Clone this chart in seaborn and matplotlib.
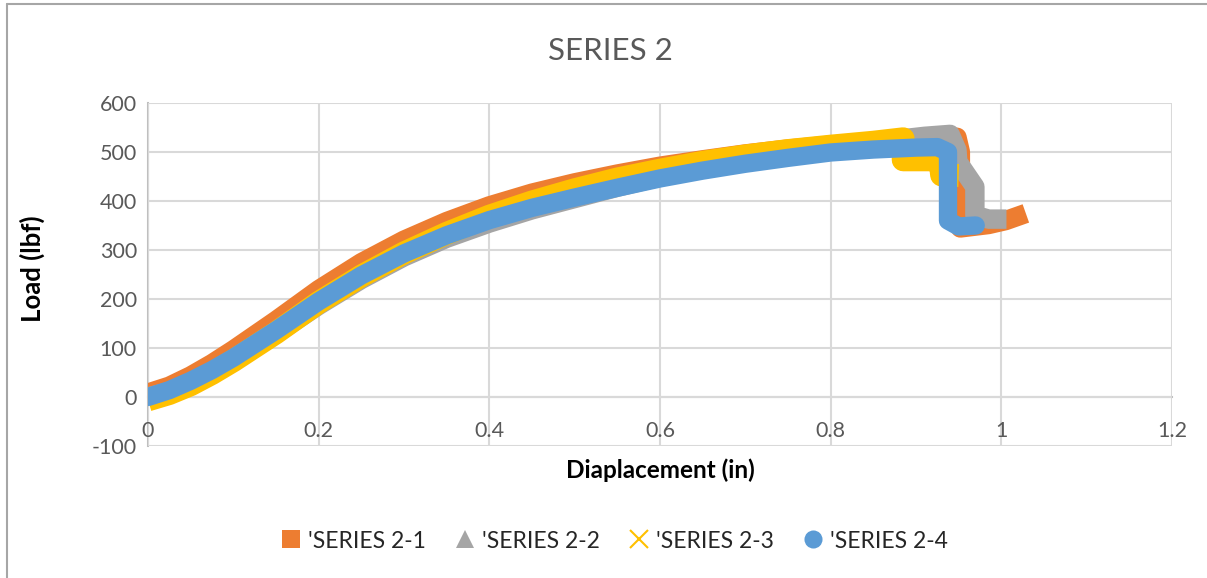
import matplotlib
matplotlib.use("Agg")
import matplotlib.pyplot as plt
from matplotlib.lines import Line2D
import seaborn as sns
import pandas as pd

# Load-displacement traces for the four specimens of series 2
disp_1 = [0.0, 0.025, 0.05, 0.075, 0.10, 0.15, 0.20, 0.25, 0.30, 0.35, 0.40, 0.45, 0.50, 0.55, 0.60,
          0.65, 0.70, 0.75, 0.80, 0.85, 0.90, 0.93, 0.948, 0.952, 0.952, 0.985, 1.005, 1.018]
load_1 = [8, 22, 43, 68, 96, 156, 219, 274, 320, 358, 390, 416, 437, 455, 471,
          484, 496, 506, 514, 521, 528, 532, 530, 500, 345, 352, 360, 368]

disp_2 = [0.0, 0.025, 0.05, 0.075, 0.10, 0.15, 0.20, 0.25, 0.30, 0.35, 0.40, 0.45, 0.50, 0.55, 0.60,
          0.65, 0.70, 0.75, 0.80, 0.85, 0.88, 0.91, 0.94, 0.948, 0.949, 0.969, 0.969, 0.985, 1.006]
load_2 = [0, 11, 29, 51, 75, 129, 187, 240, 286, 324, 355, 382, 405, 428, 449,
          467, 482, 496, 507, 518, 526, 532, 536, 504, 480, 429, 371, 363, 363]

disp_3 = [0.0, 0.025, 0.05, 0.075, 0.10, 0.15, 0.20, 0.25, 0.30, 0.35, 0.40, 0.45, 0.50, 0.55, 0.60,
          0.65, 0.70, 0.75, 0.80, 0.85, 0.885, 0.885, 0.928, 0.93, 0.95]
load_3 = [-6, 7, 25, 48, 74, 131, 193, 247, 294, 334, 369, 398, 423, 445, 463,
          479, 492, 503, 512, 520, 527, 484, 484, 453, 452]

disp_4 = [0.0, 0.025, 0.05, 0.075, 0.10, 0.15, 0.20, 0.25, 0.30, 0.35, 0.40, 0.45, 0.50, 0.55, 0.60,
          0.65, 0.70, 0.75, 0.80, 0.85, 0.90, 0.925, 0.9375, 0.9375, 0.95, 0.97]
load_4 = [0, 14, 33, 55, 80, 136, 195, 248, 293, 330, 361, 386, 407, 427, 446,
          462, 476, 488, 499, 505, 509, 510, 500, 360, 348, 350]

series_names = ["'SERIES 2-1", "'SERIES 2-2", "'SERIES 2-3", "'SERIES 2-4"]
series_colors = ["#ED7D31", "#A5A5A5", "#FFC000", "#5B9BD5"]
series_markers = ["s", "^", "x", "o"]

x_ticks = [0, 0.2, 0.4, 0.6, 0.8, 1.0, 1.2]
x_tick_labels = ["0", "0.2", "0.4", "0.6", "0.8", "1", "1.2"]
y_ticks = [-100, 0, 100, 200, 300, 400, 500, 600]

sns.set_theme(style="white")
plt.rcParams["font.family"] = ["Lato", "DejaVu Sans"]
plt.rcParams["axes.unicode_minus"] = False

fig = plt.figure(figsize=(12.07, 5.78), dpi=100)
ax = fig.add_axes([0.1226, 0.2284, 0.8484, 0.5934])

traces = [(disp_1, load_1), (disp_2, load_2), (disp_3, load_3), (disp_4, load_4)]
widths = [14.0, 14.0, 16.5, 13.2]
caps = ["projecting", "butt", "butt", "round"]
for (xs, ys), name, color, lw, cap in zip(traces, series_names, series_colors, widths, caps):
    df = pd.DataFrame({"disp": xs, "load": ys})
    sns.lineplot(data=df, x="disp", y="load", sort=False, estimator=None,
                 color=color, linewidth=lw, ax=ax, legend=False)
    ln = ax.lines[-1]
    ln.set_solid_capstyle(cap)
    ln.set_solid_joinstyle("round")

ax.set_xlim(0, 1.2)
ax.set_ylim(-100, 600)
ax.set_xticks(x_ticks)
ax.set_xticklabels(x_tick_labels)
ax.set_yticks(y_ticks)

ax.grid(True, color="#D9D9D9", linewidth=1.5)
ax.set_axisbelow(True)
for side in ["top", "right"]:
    ax.spines[side].set_visible(False)
ax.spines["bottom"].set_position(("data", 0))
ax.spines["bottom"].set_color("#BFBFBF")
ax.spines["left"].set_color("#BFBFBF")
ax.spines["bottom"].set_linewidth(1.5)
ax.spines["left"].set_linewidth(1.5)
ax.spines["bottom"].set_zorder(0.5)
ax.spines["left"].set_zorder(0.5)

ax.tick_params(axis="x", length=0, pad=17, labelsize=15.5, labelcolor="#595959")
ax.tick_params(axis="y", length=0, pad=8, labelsize=15.5, labelcolor="#595959")

ax.set_xlabel("")
ax.set_ylabel("")
fig.text(0.547, 0.187, "Diaplacement (in)", ha="center", va="center",
         fontsize=17.5, fontweight="bold", color="#000000")
fig.text(0.027, 0.536, "Load (lbf)", ha="center", va="center", rotation=90,
         fontsize=18.5, fontweight="bold", color="#000000")
fig.text(0.506, 0.912, "SERIES 2", ha="center", va="center",
         fontsize=22.5, color="#595959")

handles = [Line2D([], [], linestyle="", marker=m, color=c, markersize=13,
                  markeredgewidth=1.5 if m == "x" else 0)
           for m, c in zip(series_markers, series_colors)]
fig.legend(handles, series_names, loc="center", bbox_to_anchor=(0.509, 0.064),
           ncol=4, frameon=False, fontsize=16.5, handlelength=0.9,
           handletextpad=0.3, columnspacing=1.25)

# chart frame
fig.add_artist(Line2D([0.006, 1.0], [0.993, 0.993], transform=fig.transFigure,
                      color="#A6A6A6", linewidth=1.5))
fig.add_artist(Line2D([0.006, 0.006], [0.0, 0.993], transform=fig.transFigure,
                      color="#A6A6A6", linewidth=1.5))

fig.savefig("out.png", dpi=100, facecolor="white")
